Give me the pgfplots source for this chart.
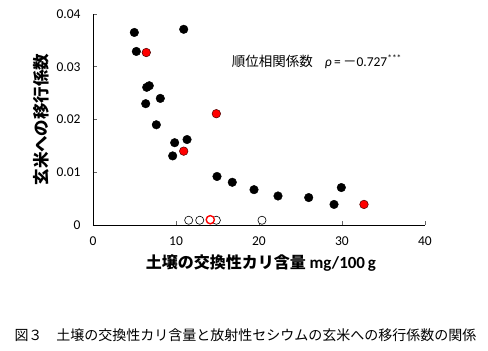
\documentclass[border=0pt]{standalone}
\usepackage{fontspec}
\setmainfont{Carlito}
\newfontfamily\cjk{Noto Sans CJK JP}
\usepackage{pgfplots}
\pgfplotsset{compat=1.18}
\begin{document}
\begin{tikzpicture}[x=1pt,y=1pt]
\path[use as bounding box] (0,0) rectangle (488,351);
\begin{axis}[
  at={(93pt,126pt)}, anchor=origin,
  scale only axis, width=332pt, height=211pt,
  xmin=0, xmax=40, ymin=0, ymax=0.04,
  axis lines*=left,
  axis line style={line width=0.9pt},
  xtick={0,10,20,30,40}, ytick={0,0.01,0.02,0.03,0.04},
  yticklabels={0,0.01,0.02,0.03,0.04},
  scaled y ticks=false,
  tick align=inside, major tick length=4pt,
  tick style={line width=0.6pt, black!60},
  /pgf/number format/assume math mode=true,
  ticklabel style={font=\fontsize{13.5}{15}\selectfont},
  xticklabel style={yshift=-8pt},
  yticklabel style={xshift=-9pt},
  xlabel={{\cjk\bfseries 土壌の交換性カリ含量} \textbf{\fontsize{17}{18}\selectfont mg/100\,g}},
  xlabel style={font=\fontsize{16}{18}\selectfont, at={(axis description cs:0.506,-0.18)}, anchor=center},
  ylabel={\cjk\bfseries 玄米への移行係数},
  ylabel style={font=\fontsize{16.5}{18}\selectfont, at={(axis description cs:-0.155,0.5)}, anchor=center, rotate=0},
  clip=false,
]
% black filled
\addplot[only marks, mark=*, mark size=4.3pt, mark options={fill=black, draw=black}] coordinates {
(4.98,0.0365) (10.93,0.0371) (5.22,0.0329) (6.47,0.0261) (6.78,0.0264)
(8.11,0.0240) (6.35,0.0230) (7.63,0.0190) (9.84,0.0156) (11.33,0.0162)
(9.60,0.0131) (14.94,0.0092) (16.78,0.0081) (19.40,0.0067) (22.29,0.0055)
(25.99,0.0052) (29.92,0.0071) (29.04,0.0039)
};
% red filled
\addplot[only marks, mark=*, mark size=4.3pt, mark options={fill=red, draw=black!70!red, line width=0.5pt}] coordinates {
(6.42,0.0327) (14.86,0.0211) (10.93,0.0140) (32.65,0.0039)
};
% open black
\addplot[only marks, mark=*, mark size=4.1pt, mark options={fill=white, draw=black, line width=0.6pt}] coordinates {
(11.53,0.0009) (12.86,0.0009) (14.86,0.0009) (20.36,0.0009)
};
% open red
\addplot[only marks, mark=*, mark size=4.1pt, mark options={fill=white, draw=red, line width=1.4pt}] coordinates {
(14.13,0.0010)
};
\node[anchor=west, font=\fontsize{13.5}{15}\selectfont, inner sep=0pt] at (axis cs:16.7,0.0310)
  {{\cjk 順位相関係数}\hspace{0.9em}\textit{ρ}\,=\,{\cjk －}0.727\textsuperscript{***}};
\end{axis}
\node[font=\fontsize{14}{16}\selectfont\cjk, anchor=center] at (245.5,16)
  {図３\hspace{1em}土壌の交換性カリ含量と放射性セシウムの玄米への移行係数の関係};
\end{tikzpicture}
\end{document}
